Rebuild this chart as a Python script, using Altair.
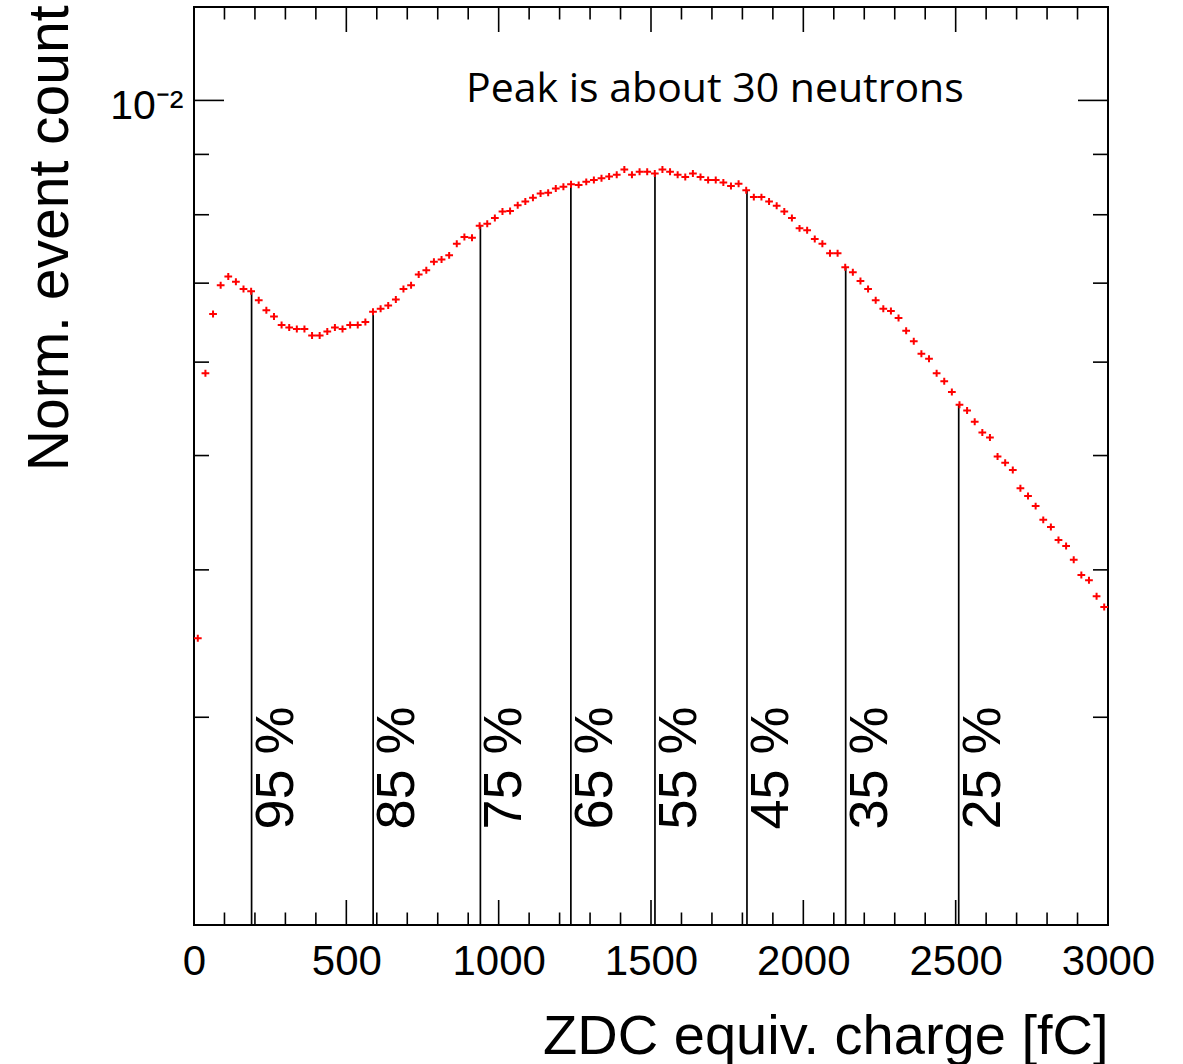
import altair as alt
import pandas as pd

# ---------------- data ----------------
BIN_WIDTH = 25  # fC, 120 bins from 0 to 3000 fC
# normalized event count per bin, in units of 1e-3
counts_e3 = [
    3.50, 5.87, 6.59, 6.97, 7.09, 7.02, 6.92, 6.89, 6.77, 6.64,
    6.56, 6.45, 6.42, 6.40, 6.40, 6.32, 6.32, 6.37, 6.42, 6.40,
    6.45, 6.45, 6.49, 6.62, 6.66, 6.70, 6.78, 6.92, 6.97, 7.12,
    7.18, 7.30, 7.33, 7.39, 7.56, 7.66, 7.65, 7.83, 7.86, 7.95,
    8.05, 8.06, 8.15, 8.21, 8.27, 8.34, 8.35, 8.42, 8.45, 8.49,
    8.48, 8.53, 8.56, 8.59, 8.62, 8.65, 8.74, 8.65, 8.70, 8.70,
    8.67, 8.74, 8.70, 8.65, 8.61, 8.67, 8.61, 8.56, 8.56, 8.52,
    8.46, 8.50, 8.39, 8.28, 8.28, 8.21, 8.14, 8.05, 7.95, 7.79,
    7.76, 7.63, 7.56, 7.42, 7.42, 7.22, 7.15, 7.03, 6.92, 6.77,
    6.66, 6.63, 6.54, 6.38, 6.25, 6.10, 6.04, 5.87, 5.78, 5.66,
    5.52, 5.46, 5.34, 5.23, 5.18, 4.99, 4.93, 4.86, 4.69, 4.62,
    4.53, 4.41, 4.35, 4.24, 4.19, 4.08, 3.96, 3.92, 3.80, 3.72,
]
bin_centers = [BIN_WIDTH * (i + 0.5) for i in range(len(counts_e3))]

pct_labels = ["95 %", "85 %", "75 %", "65 %", "55 %", "45 %", "35 %", "25 %"]
pct_x = [189, 588, 940, 1237, 1513, 1815, 2139, 2510]
pct_top_e3 = [6.90, 6.62, 7.83, 8.48, 8.67, 8.39, 7.22, 5.52]
pct_label_y = 2.41e-3

ann_text = ["Peak is about 30 neutrons"]
ann_x = [893]
ann_y = [9.97e-3]

x_major = [0, 500, 1000, 1500, 2000, 2500, 3000]
x_minor = [v for v in range(0, 3001, 100) if v % 500 != 0]
y_major = [0.01]
y_minor = [0.003, 0.004, 0.005, 0.006, 0.007, 0.008, 0.009]

X_DOMAIN = [0, 3000]
Y_DOMAIN = [0.002, 0.012]

# ---------------- layout ----------------
W, H = 914, 918
FONT = "Liberation Sans"

df_pts = pd.DataFrame({"x": bin_centers, "y": [v * 1e-3 for v in counts_e3]})
df_pct = pd.DataFrame({"x": pct_x, "y": [v * 1e-3 for v in pct_top_e3],
                       "label": pct_labels})
df_lab = pd.DataFrame({"x": pct_x, "y": [pct_label_y] * len(pct_x),
                       "label": pct_labels})
df_ann = pd.DataFrame({"x": ann_x, "y": ann_y, "text": ann_text})
df_xmaj = pd.DataFrame({"x": x_major})
df_xmin = pd.DataFrame({"x": x_minor})
df_ymaj = pd.DataFrame({"y": y_major})
df_ymin = pd.DataFrame({"y": y_minor})

xs = alt.Scale(domain=X_DOMAIN, nice=False, zero=False)
ys = alt.Scale(type="log", domain=Y_DOMAIN, nice=False)

xax = alt.Axis(values=x_major, format="d", labelFontSize=42, labelPadding=16,
               labelFont=FONT, labelColor="black", labelFlush=False,
               labelOverlap=False, grid=False, ticks=False, domain=False,
               title="ZDC equiv. charge [fC]", titleFontSize=56,
               titleFont=FONT, titleFontWeight="normal", titleColor="black",
               titleAlign="right", titleAnchor="end",
               titleBaseline="alphabetic", titleX=W, titleY=128)
yax = alt.Axis(values=y_major, labelExpr="'10⁻²'", labelFontSize=41,
               labelPadding=11, labelOffset=6, labelFont=FONT,
               labelColor="black", labelFlush=False, labelOverlap=False,
               grid=False, ticks=False, domain=False,
               title="Norm. event count", titleFontSize=57, titleFont=FONT,
               titleFontWeight="normal", titleColor="black", titleAngle=270,
               titleAlign="right", titleAnchor="end",
               titleBaseline="alphabetic", titleX=-127, titleY=-2)


def X():
    return alt.X("x:Q", scale=xs, axis=xax)


def Y():
    return alt.Y("y:Q", scale=ys, axis=yax)


TW = 1.6


def xticks(df, y1, y2):
    return alt.Chart(df).mark_rule(color="black", strokeWidth=TW).encode(
        x=X(), y=alt.value(y1), y2=alt.value(y2))


def yticks(df, x1, x2):
    return alt.Chart(df).mark_rule(color="black", strokeWidth=TW).encode(
        y=Y(), x=alt.value(x1), x2=alt.value(x2))


ticks = [
    xticks(df_xmaj, H, H - 25), xticks(df_xmin, H, H - 12.5),
    xticks(df_xmaj, 0, 25), xticks(df_xmin, 0, 12.5),
    yticks(df_ymaj, 0, 30), yticks(df_ymin, 0, 15),
    yticks(df_ymaj, W, W - 30), yticks(df_ymin, W, W - 15),
]

pct_lines = alt.Chart(df_pct).mark_rule(color="black", strokeWidth=1.7).encode(
    x=X(), y=Y(), y2=alt.datum(Y_DOMAIN[0]))

CROSS = "M-1,0H1M0,-0.9V0.9"
points = alt.Chart(df_pts).mark_point(
    shape=CROSS, filled=False, stroke="#ff0000", strokeWidth=2,
    size=60, opacity=1).encode(x=X(), y=Y())

pct_text = alt.Chart(df_lab).mark_text(
    angle=270, align="left", baseline="alphabetic", fontSize=54, font=FONT,
    color="black", dy=41).encode(x=X(), y=Y(), text="label:N")

ann = alt.Chart(df_ann).mark_text(
    align="left", baseline="alphabetic", fontSize=41, font="Open Sans",
    color="black").encode(x=X(), y=Y(), text="text:N")

chart = alt.layer(pct_lines, *ticks, points, pct_text, ann).properties(
    width=W, height=H,
    padding={"left": 194, "top": 7, "right": 75, "bottom": 139},
    autosize=alt.AutoSizeParams(type="none"),
    background="white",
).configure_view(stroke="black", strokeWidth=2).configure_axis(
    domain=False, ticks=False, grid=False
)

chart.save("out.html", embed_options={"renderer": "svg", "actions": False})
